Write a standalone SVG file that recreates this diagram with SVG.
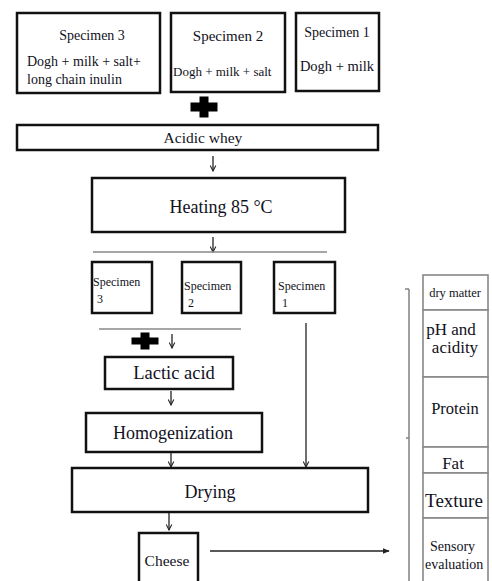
<svg xmlns="http://www.w3.org/2000/svg" width="492" height="581" viewBox="0 0 492 581">
<defs>
<style>
text{font-family:"Liberation Serif","Times New Roman",serif;fill:#111122}
.box{fill:#fff;stroke:#111;stroke-width:2.5}
.cell{fill:#fff;stroke:#888;stroke-width:1.6}
.gl{stroke:#888;stroke-width:1.6;fill:none}
.ln{stroke:#222;stroke-width:1.3;fill:none}
.c{text-anchor:middle}
</style>
<marker id="ah" viewBox="0 0 10 10" refX="9" refY="5" markerWidth="7" markerHeight="7" orient="auto" markerUnits="userSpaceOnUse">
<path d="M1,1 L9,5 L1,9" fill="none" stroke="#222" stroke-width="1.5"/>
</marker>
<marker id="ahf" viewBox="0 0 10 10" refX="9" refY="5" markerWidth="7" markerHeight="7" orient="auto" markerUnits="userSpaceOnUse">
<path d="M0,1 L10,5 L0,9 Z" fill="#222"/>
</marker>
<path id="plus" d="M-4.5,-10.5 h9 v6 h9 v9 h-9 v6 h-9 v-6 h-9 v-9 h9 z" fill="#000"/>
</defs>

<g id="specimen3">
<rect class="box" x="17" y="13" width="143" height="80"/>
<text x="92" y="40" class="c" font-size="14">Specimen 3</text>
<text x="27" y="66" font-size="14">Dogh + milk + salt+</text>
<text x="27" y="84" font-size="14">long chain inulin</text>
</g>
<g id="specimen2">
<rect class="box" x="171" y="13" width="114" height="79"/>
<text x="228" y="41" class="c" font-size="15">Specimen 2</text>
<text x="173" y="76" font-size="13">Dogh + milk + salt</text>
</g>
<g id="specimen1">
<rect class="box" x="296" y="13" width="83" height="78"/>
<text x="337" y="37" class="c" font-size="14">Specimen 1</text>
<text x="337" y="71" class="c" font-size="14.5">Dogh + milk</text>
</g>
<g id="plus1"><use href="#plus" x="204" y="107"/></g>
<g id="acidic-whey">
<rect class="box" x="17" y="125" width="361" height="25"/>
<text x="203" y="143" class="c" font-size="15.5">Acidic whey</text>
</g>
<g id="heating">
<rect class="box" x="92" y="178" width="253" height="54"/>
<text x="221" y="213" class="c" font-size="18">Heating 85 °C</text>
</g>
<g id="spec3-small">
<rect class="box" x="92" y="262" width="60" height="51"/>
<text x="93" y="286" font-size="12">Specimen</text>
<text x="97" y="303" font-size="12">3</text>
</g>
<g id="spec2-small">
<rect class="box" x="182" y="262" width="59" height="51"/>
<text x="184" y="290" font-size="12">Specimen</text>
<text x="188" y="307" font-size="12">2</text>
</g>
<g id="spec1-small">
<rect class="box" x="274" y="262" width="61" height="51"/>
<text x="278" y="290" font-size="12">Specimen</text>
<text x="282" y="307" font-size="12">1</text>
</g>
<g id="plus2"><use href="#plus" x="145" y="341" transform="translate(145 341) scale(1 0.8) translate(-145 -341)"/></g>
<g id="lactic-acid">
<rect class="box" x="105" y="357" width="128" height="32"/>
<text x="174" y="379" class="c" font-size="18.5">Lactic acid</text>
</g>
<g id="homogenization">
<rect class="box" x="86" y="413" width="176" height="39"/>
<text x="173" y="439" class="c" font-size="18">Homogenization</text>
</g>
<g id="drying">
<rect class="box" x="72" y="468" width="296" height="44"/>
<text x="210" y="498" class="c" font-size="18">Drying</text>
</g>
<g id="cheese">
<rect class="box" x="139" y="533" width="59" height="52"/>
<text x="167" y="566" class="c" font-size="15.5">Cheese</text>
</g>
<g id="analysis-table">
<rect class="cell" x="423" y="275" width="65" height="35"/>
<text x="455" y="297" class="c" font-size="12.5">dry matter</text>
<rect class="cell" x="423" y="310" width="65" height="67"/>
<text x="451" y="335" class="c" font-size="17">pH and</text>
<text x="455" y="353" class="c" font-size="17">acidity</text>
<rect class="cell" x="423" y="377" width="65" height="70"/>
<text x="455" y="414" class="c" font-size="16.5">Protein</text>
<rect class="cell" x="423" y="447" width="65" height="26"/>
<text x="453" y="469" class="c" font-size="17">Fat</text>
<rect class="cell" x="423" y="473" width="65" height="45"/>
<text x="454" y="507" class="c" font-size="19">Texture</text>
<rect class="cell" x="423" y="518" width="65" height="70"/>
<text x="430" y="551" font-size="14">Sensory</text>
<text x="425" y="569" font-size="14">evaluation</text>
</g>
<g id="connectors">
<line class="ln" x1="213" y1="156" x2="213" y2="171" marker-end="url(#ah)"/>
<line class="ln" x1="213" y1="237" x2="213" y2="252" marker-end="url(#ah)"/>
<line class="gl" x1="93" y1="252" x2="327" y2="252"/>
<line class="gl" x1="99" y1="329" x2="241" y2="329"/>
<line class="ln" x1="172" y1="334" x2="172" y2="348" marker-end="url(#ah)"/>
<line class="ln" x1="171" y1="391" x2="171" y2="405" marker-end="url(#ah)"/>
<line class="ln" x1="171" y1="453" x2="171" y2="467" marker-end="url(#ah)"/>
<line class="ln" x1="306" y1="323" x2="306" y2="467" marker-end="url(#ah)"/>
<line class="ln" x1="169" y1="513" x2="169" y2="530" marker-end="url(#ah)"/>
<line class="ln" x1="210" y1="551" x2="389" y2="551" marker-end="url(#ahf)"/>
<line class="gl" x1="409" y1="289" x2="409" y2="581"/>
<line class="gl" x1="405" y1="289" x2="409" y2="289"/>
<line class="gl" x1="406" y1="438" x2="409" y2="438"/>
</g>
</svg>
